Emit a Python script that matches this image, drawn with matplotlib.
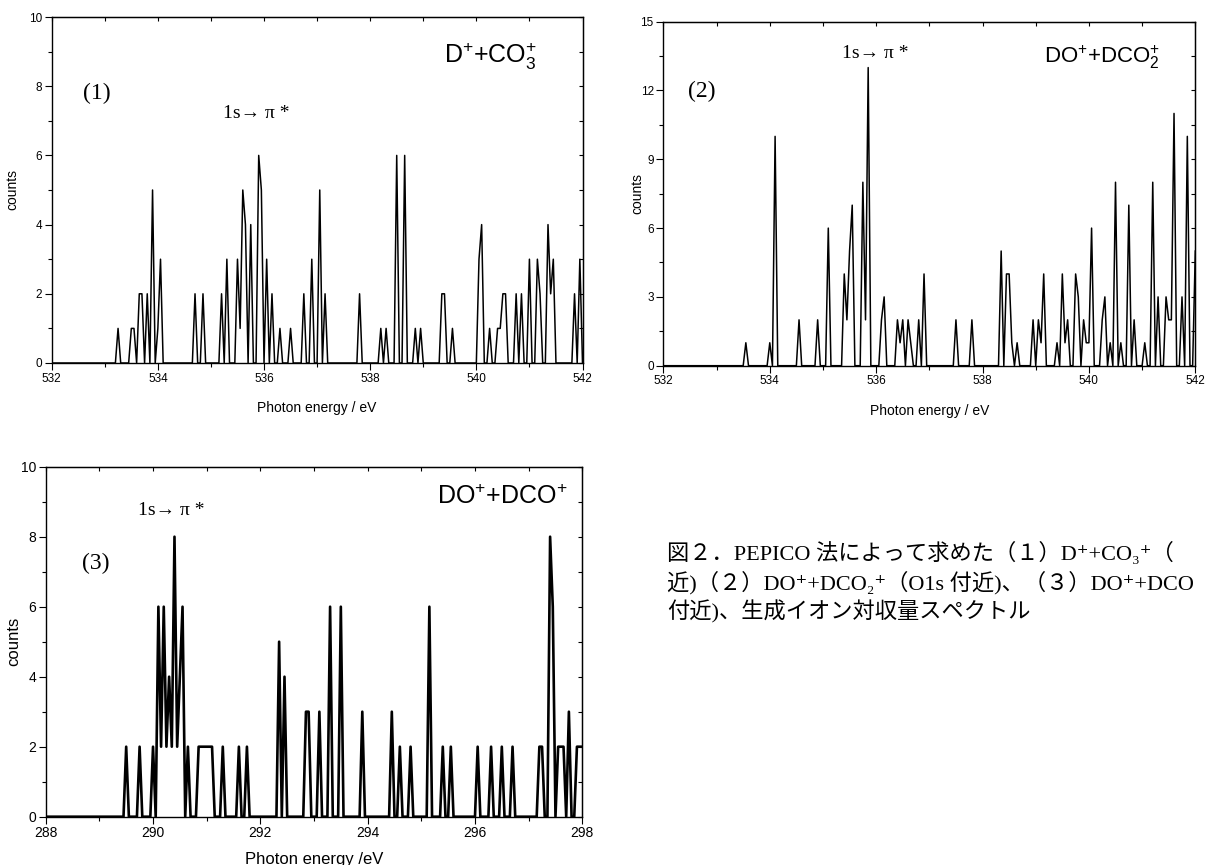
import numpy as np
import matplotlib
matplotlib.use('Agg')
import matplotlib.pyplot as plt
from matplotlib.ticker import MultipleLocator

plt.rcParams['font.family'] = ['Liberation Sans', 'DejaVu Sans']
plt.rcParams['mathtext.fontset'] = 'custom'
plt.rcParams['mathtext.rm'] = 'Liberation Sans'
plt.rcParams['mathtext.it'] = 'Liberation Sans:italic'
plt.rcParams['mathtext.bf'] = 'Liberation Sans:bold'

# ---------------- data (channel step 0.05 eV, listed channels are non-zero) ----------------
STEP = 0.05

p1_range = (532.0, 542.0)
p1_energy = [533.25, 533.50, 533.55, 533.65, 533.70, 533.80, 533.90, 534.00, 534.05,
             534.70, 534.85, 535.20, 535.30, 535.50, 535.55, 535.60, 535.65, 535.75, 535.90, 535.95,
             536.05, 536.15, 536.30, 536.50, 536.75, 536.90, 537.05, 537.15, 537.80, 538.20, 538.30,
             538.50, 538.65, 538.85, 538.95, 539.35, 539.40, 539.55, 540.05, 540.10, 540.25,
             540.40, 540.45, 540.50, 540.55, 540.75, 540.85, 541.00, 541.15, 541.20, 541.35, 541.40,
             541.45, 541.85, 541.95]
p1_counts = [1, 1, 1, 2, 2, 2, 5, 1, 3,
             2, 2, 2, 3, 3, 1, 5, 4, 4, 6, 5,
             3, 2, 1, 1, 2, 3, 5, 2, 2, 1, 1,
             6, 6, 1, 1, 2, 2, 1, 3, 4, 1,
             1, 1, 2, 2, 2, 2, 3, 3, 2, 4, 2,
             3, 2, 3]

p2_range = (532.0, 542.0)
p2_energy = [533.55, 534.00, 534.10, 534.55, 534.90, 535.10, 535.40, 535.45, 535.50, 535.55,
             535.75, 535.80, 535.85, 536.10, 536.15, 536.40, 536.45, 536.50, 536.60, 536.65, 536.80, 536.90,
             537.50, 537.80, 538.35, 538.45, 538.50, 538.55, 538.65, 538.95, 539.05, 539.10, 539.15,
             539.40, 539.50, 539.55, 539.60, 539.75, 539.80, 539.90, 539.95, 540.00, 540.05,
             540.25, 540.30, 540.40, 540.50, 540.60, 540.75, 540.85, 541.05, 541.20, 541.30,
             541.45, 541.50, 541.55, 541.60, 541.75, 541.85, 542.00]
p2_counts = [1, 1, 10, 2, 2, 6, 4, 2, 5, 7,
             8, 2, 13, 2, 3, 2, 1, 2, 2, 1, 2, 4,
             2, 2, 5, 4, 4, 1, 1, 2, 2, 1, 4,
             1, 4, 1, 2, 4, 3, 2, 1, 1, 6,
             2, 3, 1, 8, 1, 7, 2, 1, 8, 3,
             3, 2, 2, 11, 3, 10, 5]

p3_range = (288.0, 298.0)
p3_energy = [289.50, 289.75, 290.00, 290.10, 290.15, 290.20, 290.25, 290.30, 290.35, 290.40, 290.45, 290.50, 290.55,
             290.65, 290.85, 290.90, 290.95, 291.00, 291.05, 291.10, 291.30, 291.60, 291.75,
             292.35, 292.45, 292.85, 292.90, 293.10, 293.30, 293.50, 293.90,
             294.45, 294.60, 294.80, 295.15, 295.40, 295.55, 296.05, 296.30, 296.50, 296.70,
             297.20, 297.25, 297.40, 297.45, 297.55, 297.60, 297.65, 297.75, 297.90, 297.95, 298.00]
p3_counts = [2, 2, 2, 6, 2, 6, 2, 4, 2, 8, 2, 4, 6,
             2, 2, 2, 2, 2, 2, 2, 2, 2, 2,
             5, 4, 3, 3, 3, 6, 6, 3,
             3, 2, 2, 6, 2, 2, 2, 2, 2, 2,
             2, 2, 8, 6, 2, 2, 2, 3, 2, 2, 2]

caption_lines = ["図２．PEPICO 法によって求めた（１）D⁺+CO₃⁺（",
                 "近)（２）DO⁺+DCO₂⁺（O1s 付近)、（３）DO⁺+DCO",
                 "付近)、生成イオン対収量スペクトル"]

transition_label = '1s→ π *'


def spectrum(rng, energy, counts):
    lo, hi = rng
    n = int(round((hi - lo) / STEP)) + 1
    e = lo + STEP * np.arange(n)
    c = np.zeros(n)
    idx = np.round((np.asarray(energy) - lo) / STEP).astype(int)
    c[idx] = counts
    return e, c


fig = plt.figure(figsize=(12.07, 8.65), dpi=100)
W, H = 1207.0, 865.0


def add_ax(x0, y0, x1, y1):
    return fig.add_axes([x0 / W, 1 - y1 / H, (x1 - x0) / W, (y1 - y0) / H])


def style(ax, rng, ymax, ymaj, ymin, lab_fs, tick_fs, xlab, xlab_y, ylab_x):
    ax.set_xlim(*rng)
    ax.set_ylim(0, ymax)
    ax.xaxis.set_major_locator(MultipleLocator(2))
    ax.xaxis.set_minor_locator(MultipleLocator(1))
    ax.yaxis.set_major_locator(MultipleLocator(ymaj))
    ax.yaxis.set_minor_locator(MultipleLocator(ymin))
    ax.tick_params(which='both', direction='out', labelsize=tick_fs, width=0.8, pad=2)
    ax.tick_params(which='major', length=5)
    ax.tick_params(which='minor', length=3)
    for s in ax.spines.values():
        s.set_linewidth(1.0)
    sx = ax.secondary_xaxis('top')
    sx.xaxis.set_major_locator(MultipleLocator(1))
    sx.tick_params(direction='in', labeltop=False, length=3, width=0.8)
    sy = ax.secondary_yaxis('right')
    sy.yaxis.set_major_locator(MultipleLocator(ymin))
    sy.tick_params(direction='in', labelright=False, length=3, width=0.8)
    ax.set_xlabel(xlab, fontsize=lab_fs)
    ax.set_ylabel('counts', fontsize=lab_fs)
    ax.xaxis.set_label_coords(0.5, xlab_y)
    ax.yaxis.set_label_coords(ylab_x, 0.5)


serif = ['Liberation Serif', 'DejaVu Serif']

# Panel (1)
ax1 = add_ax(51.7, 17, 582.5, 363)
e, c = spectrum(p1_range, p1_energy, p1_counts)
ax1.plot(e, c, color='black', lw=1.1)
style(ax1, p1_range, 10, 2, 1, 10, 8.5, 'Photon energy / eV', -0.11, -0.06)
ax1.text(0.085, 0.78, '(1)', transform=ax1.transAxes, fontsize=17, family=serif, ha='center', va='center')
ax1.text(0.385, 0.72, transition_label, transform=ax1.transAxes, fontsize=14, family=serif, ha='center', va='center')
ax1.text(0.826, 0.885, r'D$^{+}$+CO$_{3}^{+}$', transform=ax1.transAxes, fontsize=18, ha='center', va='center')

# Panel (2)
ax2 = add_ax(663.4, 21.7, 1195.3, 365.7)
e, c = spectrum(p2_range, p2_energy, p2_counts)
ax2.plot(e, c, color='black', lw=1.1)
style(ax2, p2_range, 15, 3, 1.5, 10, 8.5, 'Photon energy / eV', -0.11, -0.035)
ax2.text(0.072, 0.797, '(2)', transform=ax2.transAxes, fontsize=17, family=serif, ha='center', va='center')
ax2.text(0.398, 0.908, transition_label, transform=ax2.transAxes, fontsize=14, family=serif, ha='center', va='center')
ax2.text(0.824, 0.898, r'DO$^{+}$+DCO$_{2}^{+}$', transform=ax2.transAxes, fontsize=16, ha='center', va='center')

# Panel (3)
ax3 = add_ax(45.7, 466.7, 582.3, 816.7)
e, c = spectrum(p3_range, p3_energy, p3_counts)
ax3.plot(e, c, color='black', lw=1.9)
style(ax3, p3_range, 10, 2, 1, 12, 10, 'Photon energy /eV', -0.1, -0.045)
ax3.text(0.094, 0.724, '(3)', transform=ax3.transAxes, fontsize=17, family=serif, ha='center', va='center')
ax3.text(0.2345, 0.876, transition_label, transform=ax3.transAxes, fontsize=14, family=serif, ha='center', va='center')
ax3.text(0.85, 0.914, r'DO$^{+}$+DCO$^{+}$', transform=ax3.transAxes, fontsize=18, ha='center', va='center')

# Caption
cap_family = ['Liberation Serif', 'Noto Sans CJK JP', 'DejaVu Serif']
for i, line in enumerate(caption_lines):
    fig.text(666.7 / W, 1 - (553 + 29.5 * i) / H, line, fontsize=16, family=cap_family,
             ha='left', va='center')

fig.savefig('out.png', dpi=100)
